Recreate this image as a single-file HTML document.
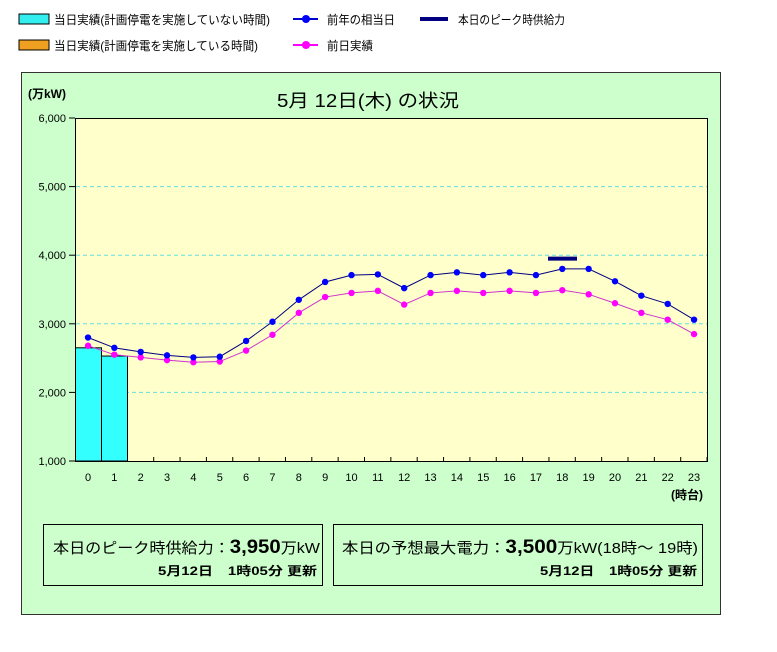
<!DOCTYPE html>
<html><head><meta charset="utf-8"><style>
body{margin:0;background:#fff;width:777px;height:647px;overflow:hidden;font-family:"Liberation Sans","Noto Sans CJK JP",sans-serif}
</style></head><body>
<svg id="s" width="777" height="647" xmlns="http://www.w3.org/2000/svg" font-family="Liberation Sans, Noto Sans CJK JP, sans-serif">
<rect x="19" y="14" width="30" height="10" fill="#33eeee" stroke="#000" stroke-width="1"/>
<text x="54" y="24" font-size="12" textLength="216" lengthAdjust="spacingAndGlyphs">当日実績(計画停電を実施していない時間)</text>
<rect x="19" y="40" width="30" height="10" fill="#f0a020" stroke="#000" stroke-width="1"/>
<text x="54" y="50" font-size="12" textLength="204" lengthAdjust="spacingAndGlyphs">当日実績(計画停電を実施している時間)</text>
<line x1="293" y1="19" x2="318" y2="19" stroke="#0000cc" stroke-width="2"/><circle cx="306" cy="19" r="4" fill="#0000ff"/>
<text x="327" y="24" font-size="12" textLength="68" lengthAdjust="spacingAndGlyphs">前年の相当日</text>
<line x1="293" y1="45" x2="318" y2="45" stroke="#ff00ff" stroke-width="2"/><circle cx="306" cy="45" r="4" fill="#ff00ff"/>
<text x="327" y="50" font-size="12" textLength="46" lengthAdjust="spacingAndGlyphs">前日実績</text>
<line x1="420" y1="19" x2="448" y2="19" stroke="#000080" stroke-width="4"/>
<text x="458" y="24" font-size="12" textLength="107" lengthAdjust="spacingAndGlyphs">本日のピーク時供給力</text>
<rect x="21.5" y="72.5" width="699" height="542" fill="#ccffcc" stroke="#333"/>
<text x="28" y="98" font-size="12" font-weight="bold">(万kW)</text>
<text x="368" y="107" font-size="18" text-anchor="middle" textLength="182" lengthAdjust="spacingAndGlyphs">5月 12日(木) の状況</text>
<rect x="75.5" y="118.5" width="632" height="343" fill="#ffffcc" stroke="#000"/>
<g id="g"></g>
<text x="703" y="499" font-size="12" font-weight="bold" text-anchor="end">(時台)</text>
<rect x="43.5" y="524.5" width="279" height="61" fill="none" stroke="#000"/>
<text x="53" y="553" font-size="15" textLength="267" lengthAdjust="spacingAndGlyphs">本日のピーク時供給力：<tspan font-size="19" font-weight="bold">3,950</tspan>万kW</text>
<text x="158" y="575" font-size="12" font-weight="bold" textLength="159" lengthAdjust="spacingAndGlyphs">5月12日　1時05分 更新</text>
<rect x="333.5" y="524.5" width="369" height="61" fill="none" stroke="#000"/>
<text x="342" y="553" font-size="15" textLength="356" lengthAdjust="spacingAndGlyphs">本日の予想最大電力：<tspan font-size="19" font-weight="bold">3,500</tspan>万kW(18時～ 19時)</text>
<text x="540" y="575" font-size="12" font-weight="bold" textLength="157" lengthAdjust="spacingAndGlyphs">5月12日　1時05分 更新</text>
</svg>
<script>
var g=document.getElementById('g'),h='';
function Y(v){return 461-(v-1000)*0.0686;}
function X(i){return 88+i*26.35;}
for(var v=1000;v<=6000;v+=1000){var y=Y(v);
 if(v>1000&&v<6000)h+='<line x1="76" x2="707" y1="'+y+'" y2="'+y+'" stroke="#66dddd" stroke-dasharray="4,3"/>';
 h+='<line x1="69" x2="75" y1="'+y+'" y2="'+y+'" stroke="#000"/>';
 h+='<text x="66" y="'+(y+4)+'" font-size="11" text-anchor="end">'+(v/1000)+',000</text>';}
for(var i=0;i<24;i++){h+='<line x1="'+(X(i)+13)+'" x2="'+(X(i)+13)+'" y1="457" y2="461" stroke="#000"/>';
 h+='<text x="'+X(i)+'" y="481" font-size="11" text-anchor="middle">'+i+'</text>';}
h+='<rect x="75.5" y="'+Y(2650)+'" width="26" height="'+(461-Y(2650))+'" fill="#33ffff" stroke="#000"/>';
h+='<rect x="101.5" y="'+Y(2530)+'" width="26" height="'+(461-Y(2530))+'" fill="#33ffff" stroke="#000"/>';
var b=[2800,2650,2590,2540,2510,2520,2750,3030,3350,3610,3710,3720,3520,3710,3750,3710,3750,3710,3800,3800,3620,3410,3290,3060];
var m=[2680,2550,2510,2470,2440,2450,2610,2840,3160,3390,3450,3480,3280,3450,3480,3450,3480,3450,3490,3430,3300,3160,3060,2850];
function ser(a,lc,mc){var p=a.map(function(v,i){return X(i)+','+Y(v)}).join(' ');
 var s='<polyline points="'+p+'" fill="none" stroke="'+lc+'" stroke-width="1"/>';
 a.forEach(function(v,i){s+='<circle cx="'+X(i)+'" cy="'+Y(v)+'" r="3.2" fill="'+mc+'"/>'});return s;}
h+=ser(m,'#cc33cc','#ff00ff');h+=ser(b,'#000080','#0000ff');
h+='<line x1="548" x2="577" y1="'+Y(3950)+'" y2="'+Y(3950)+'" stroke="#000080" stroke-width="4"/>';
g.innerHTML=h;
</script>
</body></html>
